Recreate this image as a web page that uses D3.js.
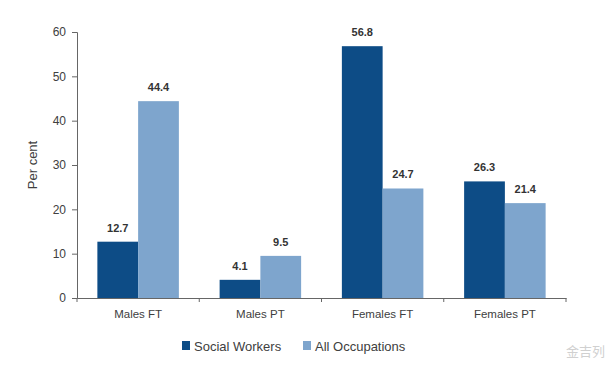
<!DOCTYPE html>
<html><head><meta charset="utf-8">
<script src="https://cdn.jsdelivr.net/npm/d3@7"></script>
<style>body{margin:0;background:#fff}svg{display:block}</style>
</head><body>
<svg id="c" width="616" height="369"></svg>
<script>
const categories = ["Males FT", "Males PT", "Females FT", "Females PT"];
const seriesNames = ["Social Workers", "All Occupations"];
const socialWorkers = [12.7, 4.1, 56.8, 26.3];
const allOccupations = [44.4, 9.5, 24.7, 21.4];
const yTicks = [0, 10, 20, 30, 40, 50, 60];
const colors = ["#0d4c86", "#7ea5cd"];

const svg = d3.select("#c");
const m = {left: 77, right: 50, top: 32, bottom: 71};
const W = 616, H = 369;
const x = d3.scaleBand().domain(categories).range([m.left, W - m.right]);
const y = d3.scaleLinear().domain([0, 60]).range([H - m.bottom, m.top]);
const x1 = d3.scaleBand().domain(seriesNames).range([0, x.bandwidth()]).paddingOuter(0.5).paddingInner(0);
const data = categories.map((c, i) => ({cat: c, vals: [socialWorkers[i], allOccupations[i]]}));
const font = "'Liberation Sans', Arial, sans-serif";

// y axis
const ya = svg.append("g").attr("transform", `translate(${m.left},0)`)
  .call(d3.axisLeft(y).tickValues(yTicks).tickSize(5).tickPadding(6));
ya.select(".domain").attr("stroke", "#666");
ya.selectAll(".tick line").attr("stroke", "#666");
ya.selectAll("text").attr("font-family", font).attr("font-size", 12).attr("fill", "#404040");

// x axis
const xa = svg.append("g").attr("transform", `translate(0,${y(0)})`)
  .call(d3.axisBottom(x).tickSize(0).tickPadding(12));
xa.select(".domain").attr("stroke", "#666");
xa.selectAll("text").attr("font-family", font).attr("font-size", 11.5).attr("fill", "#404040");
// boundary tick marks
const bounds = categories.map(c => x(c) + x.bandwidth()).concat([x(categories[0])]);
svg.append("g").selectAll("line").data(bounds).join("line")
  .attr("x1", d => d).attr("x2", d => d).attr("y1", y(0)).attr("y2", y(0) + 4)
  .attr("stroke", "#666");

// bars
const g = svg.append("g").selectAll("g").data(data).join("g")
  .attr("transform", d => `translate(${x(d.cat)},0)`);
g.selectAll("rect").data(d => d.vals.map((v, k) => ({v, k})))
  .join("rect")
  .attr("x", d => x1(seriesNames[d.k]))
  .attr("width", x1.bandwidth())
  .attr("y", d => y(d.v))
  .attr("height", d => y(0) - y(d.v))
  .attr("fill", d => colors[d.k]);
g.selectAll("text").data(d => d.vals.map((v, k) => ({v, k})))
  .join("text")
  .attr("x", d => x1(seriesNames[d.k]) + x1.bandwidth() / 2)
  .attr("y", d => y(d.v) - 10)
  .attr("text-anchor", "middle")
  .attr("font-family", font).attr("font-size", 11).attr("font-weight", "bold")
  .attr("fill", "#333")
  .text(d => d3.format(".1f")(d.v));

// y label
svg.append("text")
  .attr("transform", `translate(37,${(y(0) + y(60)) / 2}) rotate(-90)`)
  .attr("text-anchor", "middle")
  .attr("font-family", font).attr("font-size", 13).attr("fill", "#404040")
  .text("Per cent");

// legend
const legX = [182, 303];
const leg = svg.append("g").selectAll("g").data(seriesNames).join("g")
  .attr("transform", (d, i) => `translate(${legX[i]},346)`);
leg.append("rect").attr("x", 0).attr("y", -5).attr("width", 8).attr("height", 9)
  .attr("fill", (d, i) => colors[i]);
leg.append("text").attr("x", 12).attr("y", 5)
  .attr("font-family", font).attr("font-size", 13).attr("fill", "#404040")
  .text(d => d);

// watermark
svg.append("text").attr("x", 566).attr("y", 356)
  .attr("font-family", "'Noto Sans CJK SC', sans-serif").attr("font-size", 13)
  .attr("fill", "#d0d0d0").text("金吉列");
</script>
</body></html>
